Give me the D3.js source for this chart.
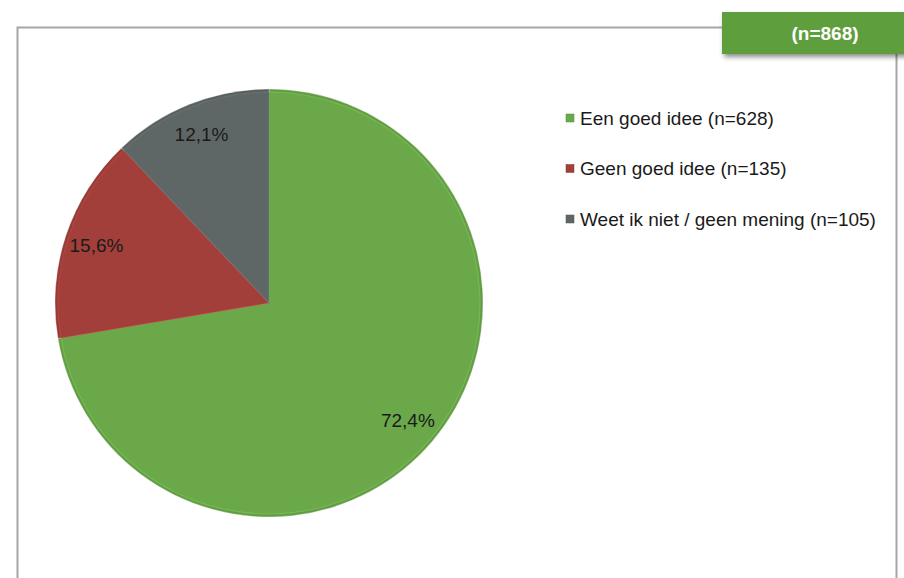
<!DOCTYPE html>
<html>
<head>
<meta charset="utf-8">
<script src="https://cdn.jsdelivr.net/npm/d3@7"></script>
<style>
  body { margin: 0; background: #fff; }
  svg { display: block; font-family: "Liberation Sans", Arial, sans-serif; }
</style>
</head>
<body>
<div id="chart"></div>
<script>
var categories = ["Een goed idee", "Geen goed idee", "Weet ik niet / geen mening"];
var counts = [628, 135, 105];
var percentLabels = ["72,4%", "15,6%", "12,1%"];
var colors = ["#6aa84a", "#a23f3b", "#5f6766"];
var total = 868;

function init() {
    var w = 904, h = 578;
    var cx = 269, cy = 303, r = 214;

    var svg = d3.select("#chart")
        .append("svg")
        .attr("width", w)
        .attr("height", h);

    var defs = svg.append("defs");
    var shadow = defs.append("filter").attr("id", "shadow")
        .attr("x", "-10%").attr("y", "-20%").attr("width", "130%").attr("height", "160%");
    shadow.append("feDropShadow")
        .attr("dx", 2).attr("dy", 3).attr("stdDeviation", 2.5)
        .attr("flood-color", "#000").attr("flood-opacity", 0.45);

    // outer frame
    svg.append("path")
        .attr("d", "M17.5,600 V27.5 H722")
        .attr("fill", "none").attr("stroke", "#a6a6a6").attr("stroke-width", 2);
    svg.append("path")
        .attr("d", "M896.5,54 V600")
        .attr("fill", "none").attr("stroke", "#a6a6a6").attr("stroke-width", 2);

    // n box
    svg.append("rect")
        .attr("x", 722).attr("y", 12).attr("width", 190).attr("height", 42)
        .attr("fill", "#5f9e3c")
        .attr("filter", "url(#shadow)");
    svg.append("text")
        .attr("x", 825).attr("y", 40)
        .attr("text-anchor", "middle")
        .attr("fill", "#fff")
        .style("font-size", "19px")
        .style("font-weight", "bold")
        .text("(n=" + total + ")");

    var data = categories.map(function (c, i) {
        return { name: c, value: counts[i], label: percentLabels[i], color: colors[i] };
    });

    var pie = d3.pie().sort(null).value(function (d) { return d.value; });
    var arcs = pie(data);
    var arc = d3.arc().innerRadius(0).outerRadius(r);
    var inner = d3.arc().innerRadius(0).outerRadius(r - 3);
    var labelArc = d3.arc().innerRadius(r * 0.85).outerRadius(r * 0.85);

    var g = svg.append("g").attr("transform", "translate(" + cx + "," + cy + ")");

    g.selectAll("path.slice")
        .data(arcs)
        .enter()
        .append("path")
        .attr("class", "slice")
        .attr("d", arc)
        .attr("fill", function (d) { return d3.color(d.data.color).darker(0.2); })
        .attr("stroke", "#fff")
        .attr("stroke-opacity", 0.3)
        .attr("stroke-width", 1);

    g.selectAll("path.face")
        .data(arcs)
        .enter()
        .append("path")
        .attr("class", "face")
        .attr("d", inner)
        .attr("fill", function (d) { return d.data.color; })
        .attr("stroke", function (d) { return d3.color(d.data.color).brighter(0.6); })
        .attr("stroke-width", 1.2)
        .attr("stroke-opacity", 0.5);

    g.selectAll("text.pct")
        .data(arcs)
        .enter()
        .append("text")
        .attr("class", "pct")
        .attr("transform", function (d) { return "translate(" + labelArc.centroid(d) + ")"; })
        .attr("text-anchor", "middle")
        .attr("dy", "0.35em")
        .attr("fill", "#1a1a1a")
        .style("font-size", "19px")
        .text(function (d) { return d.data.label; });

    // legend
    var legendY = d3.scalePoint()
        .domain(categories)
        .range([118, 219]);

    var legend = svg.selectAll("g.legend")
        .data(data)
        .enter()
        .append("g")
        .attr("class", "legend")
        .attr("transform", function (d) { return "translate(566," + legendY(d.name) + ")"; });

    legend.append("rect")
        .attr("x", 0).attr("y", -4).attr("width", 8).attr("height", 8)
        .attr("fill", function (d) { return d.color; })
        .attr("stroke", function (d) { return d3.color(d.color).darker(0.5); })
        .attr("stroke-width", 0.5);

    legend.append("text")
        .attr("x", 14)
        .attr("dy", "0.35em")
        .attr("fill", "#1a1a1a")
        .style("font-size", "19px")
        .text(function (d) { return d.name + " (n=" + d.value + ")"; });
}

window.onload = init;
</script>
</body>
</html>
